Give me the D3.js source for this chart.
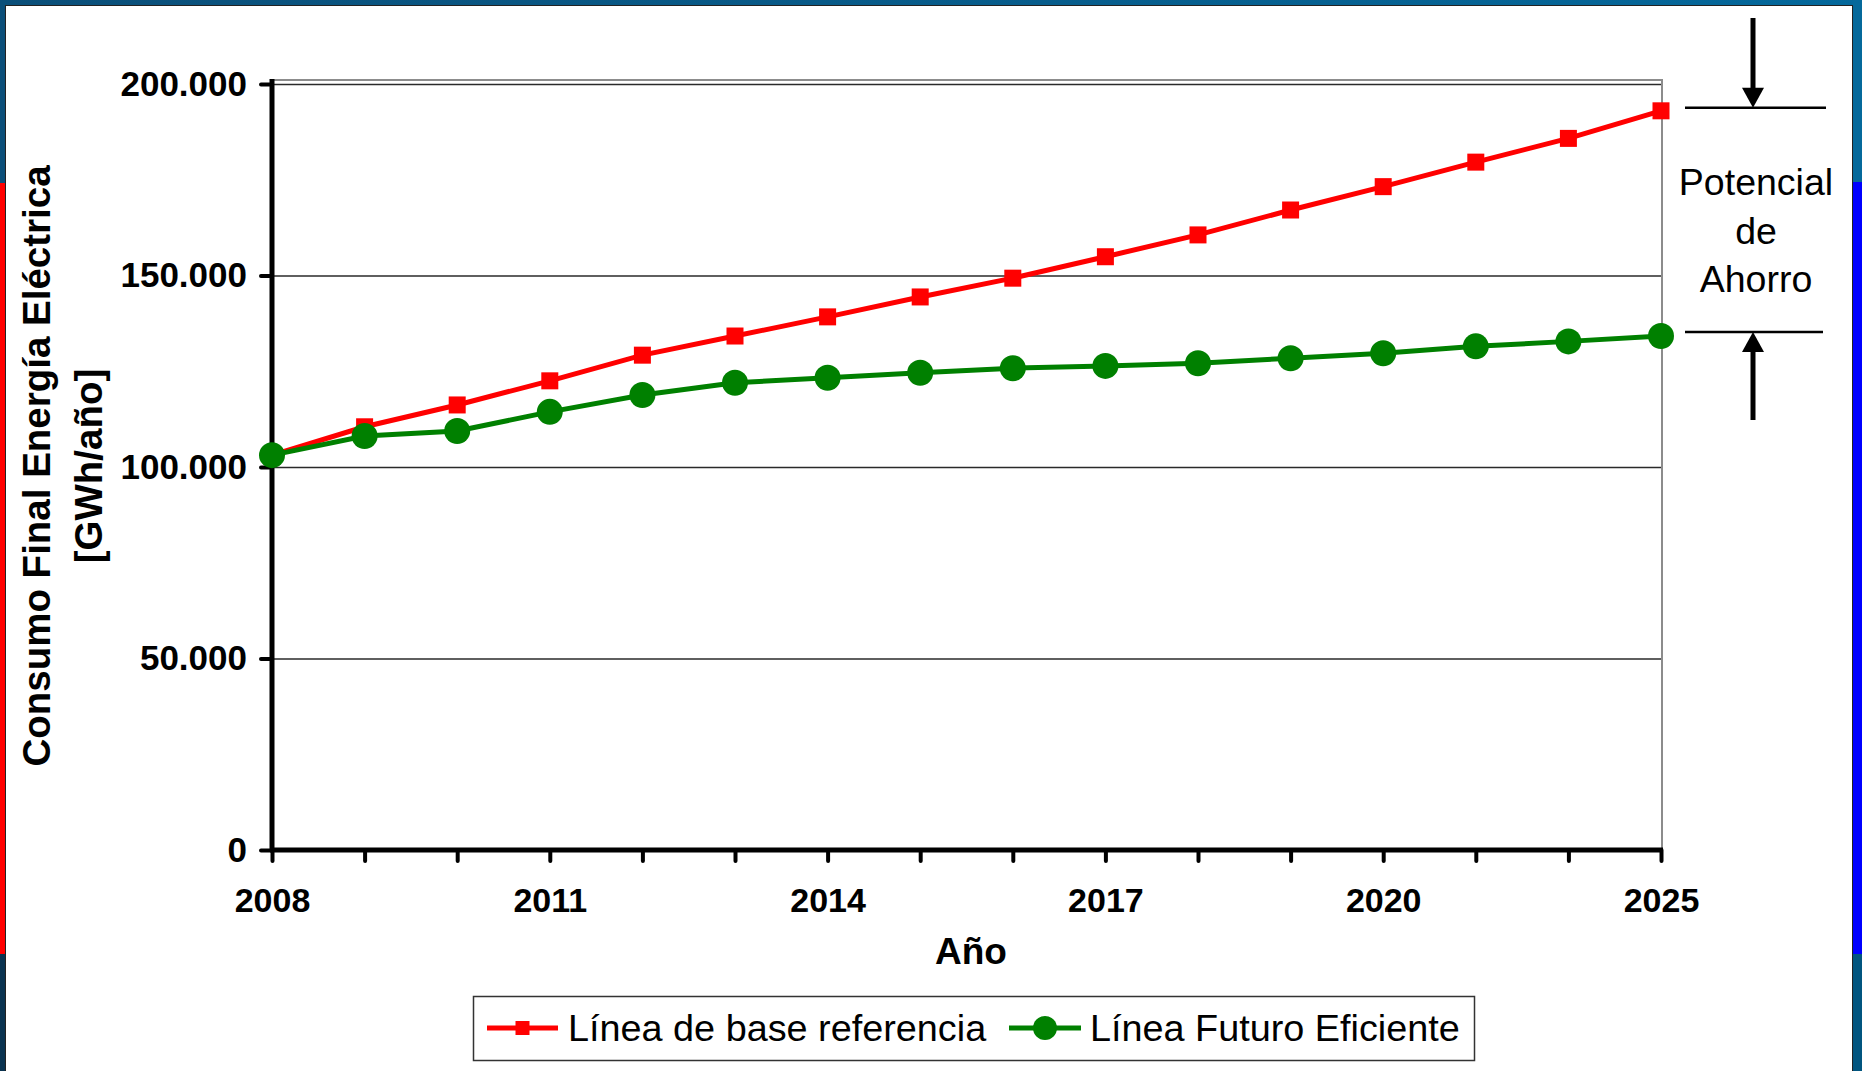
<!DOCTYPE html>
<html>
<head>
<meta charset="utf-8">
<script src="https://cdn.jsdelivr.net/npm/d3@7"></script>
<style>
body { margin: 0; background: #fff; }
svg { display: block; }
</style>
</head>
<body>
<svg id="chart" width="1862" height="1071"></svg>
<script>
// data (GWh/año)
var years = ["2008", "2009", "2010", "2011", "2012", "2013", "2014", "2015", "2016",
             "2017", "2018", "2019", "2020", "2021", "2023", "2025"];
var baseLine = [103100, 110500, 116200, 122500, 129200, 134200, 139200, 144400, 149300,
                154900, 160600, 167100, 173200, 179600, 185800, 193000];
var efficient = [103100, 108100, 109400, 114400, 118800, 122000, 123300, 124600, 125800,
                 126400, 127100, 128400, 129700, 131500, 132800, 134200];
var yTicks = [0, 50000, 100000, 150000, 200000];
var xLabels = ["2008", "2011", "2014", "2017", "2020", "2025"];
var seriesNames = ["Línea de base referencia", "Línea Futuro Eficiente"];
var savingText = ["Potencial", "de", "Ahorro"];

var FONT = "'Liberation Sans', Arial, sans-serif";
var svg = d3.select("#chart");

/* slide frame: coloured strips round a white panel */
var defs = svg.append("defs");
var grad = defs.append("linearGradient").attr("id", "topBar");
grad.append("stop").attr("offset", "0%").attr("stop-color", "#0b4f79");
grad.append("stop").attr("offset", "100%").attr("stop-color", "#04689b");
svg.append("rect").attr("x", 0).attr("y", 0).attr("width", 1862).attr("height", 1071)
    .style("fill", "url(#topBar)");

var strips = [
    {x: 0, y: 0, w: 5, h: 183, c: "#0b4f79"},
    {x: 0, y: 183, w: 5, h: 771, c: "#ff0000"},
    {x: 0, y: 954, w: 5, h: 117, c: "#0a3350"},
    {x: 1853, y: 0, w: 9, h: 182, c: "#05699b"},
    {x: 1853, y: 182, w: 9, h: 772, c: "#0000ff"},
    {x: 1853, y: 954, w: 9, h: 117, c: "#01557f"}
];
svg.selectAll("rect.strip").data(strips).enter().append("rect")
    .attr("class", "strip")
    .attr("x", function(d){ return d.x; }).attr("y", function(d){ return d.y; })
    .attr("width", function(d){ return d.w; }).attr("height", function(d){ return d.h; })
    .style("fill", function(d){ return d.c; });

svg.append("rect").attr("x", 5.5).attr("y", 5.5).attr("width", 1847).attr("height", 1070)
    .style("fill", "#fff").style("stroke", "#222").style("stroke-width", 1);

/* scales */
var x = d3.scalePoint().domain(years).range([272, 1661]);
var y = d3.scaleLinear().domain([0, 200000]).range([850, 84]);

var es = d3.formatLocale({decimal: ",", thousands: ".", grouping: [3], currency: ["", ""]});
var fmt = es.format(",d");

// plot area border (grey, top and right visible)
svg.append("rect").attr("x", 272).attr("y", 80).attr("width", 1390).attr("height", 770)
    .style("fill", "none").style("stroke", "#8c8c8c").style("stroke-width", 2);

// gridlines
svg.append("g").selectAll("line").data(yTicks.slice(1)).enter().append("line")
    .attr("x1", 272).attr("x2", 1661)
    .attr("y1", function(d){ return y(d) + 0.5; }).attr("y2", function(d){ return y(d) + 0.5; })
    .style("stroke", "#2a2a2a").style("stroke-width", 1.3);

/* axes */
var yAxis = svg.append("g").attr("transform", "translate(272,0)")
    .call(d3.axisLeft(y).tickValues(yTicks).tickSize(11).tickPadding(14).tickFormat(fmt));
var xAxis = svg.append("g").attr("transform", "translate(0,850)")
    .call(d3.axisBottom(x).tickSize(11).tickPadding(27)
        .tickFormat(function(d){ return xLabels.indexOf(d) >= 0 ? d : ""; }));

[yAxis, xAxis].forEach(function(ax){
    ax.select(".domain").remove();
    ax.selectAll(".tick line").style("stroke", "#000").style("stroke-width", 4)
        .style("stroke-linecap", "round");
    ax.selectAll(".tick text").style("font-family", FONT).style("font-size", "34px")
        .style("font-weight", "bold").style("fill", "#000");
});
yAxis.selectAll(".tick text").style("font-size", "35px");

svg.append("line").attr("x1", 272).attr("x2", 272).attr("y1", 79).attr("y2", 852)
    .style("stroke", "#000").style("stroke-width", 5);
svg.append("line").attr("x1", 270).attr("x2", 1663).attr("y1", 850).attr("y2", 850)
    .style("stroke", "#000").style("stroke-width", 5);

// axis titles
svg.append("text").attr("x", 971).attr("y", 964).attr("text-anchor", "middle")
    .style("font-family", FONT).style("font-size", "37px").style("font-weight", "bold")
    .text("Año");
var yTitle = ["Consumo Final Energía Eléctrica", "[GWh/año]"];
svg.selectAll("text.ytitle").data(yTitle).enter().append("text")
    .attr("class", "ytitle")
    .attr("transform", function(d, i){ return "translate(" + (50 + i * 52) + ",466) rotate(-90)"; })
    .attr("text-anchor", "middle")
    .style("font-family", FONT).style("font-size", "38.5px").style("font-weight", "bold")
    .text(function(d){ return d; });

/* series */
var line = d3.line()
    .x(function(d, i){ return x(years[i]); })
    .y(function(d){ return y(d); });

svg.append("path").datum(baseLine).attr("d", line)
    .style("fill", "none").style("stroke", "#ff0000").style("stroke-width", 5);
svg.append("g").selectAll("rect").data(baseLine).enter().append("rect")
    .attr("x", function(d, i){ return x(years[i]) - 8.5; })
    .attr("y", function(d){ return y(d) - 8.5; })
    .attr("width", 17).attr("height", 17)
    .style("fill", "#ff0000");

svg.append("path").datum(efficient).attr("d", line)
    .style("fill", "none").style("stroke", "#008000").style("stroke-width", 5);
svg.append("g").selectAll("circle").data(efficient).enter().append("circle")
    .attr("cx", function(d, i){ return x(years[i]); })
    .attr("cy", function(d){ return y(d); })
    .attr("r", 13)
    .style("fill", "#008000");

/* legend */
var legend = svg.append("g");
legend.append("rect").attr("x", 473.5).attr("y", 996.5).attr("width", 1001).attr("height", 64)
    .style("fill", "#fff").style("stroke", "#333").style("stroke-width", 1.5);
var items = [
    {name: seriesNames[0], color: "#ff0000", x0: 487, x1: 558, tx: 568, shape: "square"},
    {name: seriesNames[1], color: "#008000", x0: 1009, x1: 1081, tx: 1090, shape: "circle"}
];
items.forEach(function(it){
    var cx = (it.x0 + it.x1) / 2;
    legend.append("line").attr("x1", it.x0).attr("x2", it.x1).attr("y1", 1028).attr("y2", 1028)
        .style("stroke", it.color).style("stroke-width", 5);
    if(it.shape == "square"){
        legend.append("rect").attr("x", cx - 7).attr("y", 1021).attr("width", 14).attr("height", 14)
            .style("fill", it.color);
    } else {
        legend.append("circle").attr("cx", cx).attr("cy", 1028).attr("r", 12)
            .style("fill", it.color);
    }
    legend.append("text").attr("x", it.tx).attr("y", 1041)
        .style("font-family", FONT).style("font-size", "37.8px")
        .text(it.name);
});

/* saving potential annotation */
var yTop = y(baseLine[baseLine.length - 1]) - 3;
var yBot = y(efficient[efficient.length - 1]) - 4;
var ax = 1753;
var note = svg.append("g");
note.append("line").attr("x1", 1685).attr("x2", 1826).attr("y1", yTop).attr("y2", yTop)
    .style("stroke", "#000").style("stroke-width", 2.5);
note.append("line").attr("x1", 1685).attr("x2", 1823).attr("y1", yBot).attr("y2", yBot)
    .style("stroke", "#000").style("stroke-width", 2.5);
note.append("line").attr("x1", ax).attr("x2", ax).attr("y1", 18).attr("y2", yTop - 18)
    .style("stroke", "#000").style("stroke-width", 5);
note.append("path")
    .attr("d", "M" + (ax - 11) + "," + (yTop - 20) + "L" + (ax + 11) + "," + (yTop - 20) + "L" + ax + "," + yTop + "Z")
    .style("fill", "#000");
note.append("line").attr("x1", ax).attr("x2", ax).attr("y1", yBot + 18).attr("y2", 420)
    .style("stroke", "#000").style("stroke-width", 5);
note.append("path")
    .attr("d", "M" + (ax - 11) + "," + (yBot + 20) + "L" + (ax + 11) + "," + (yBot + 20) + "L" + ax + "," + yBot + "Z")
    .style("fill", "#000");
note.selectAll("text").data(savingText).enter().append("text")
    .attr("x", 1756).attr("y", function(d, i){ return 195 + i * 48.5; })
    .attr("text-anchor", "middle")
    .style("font-family", FONT).style("font-size", "37.5px")
    .text(function(d){ return d; });
</script>
</body>
</html>
